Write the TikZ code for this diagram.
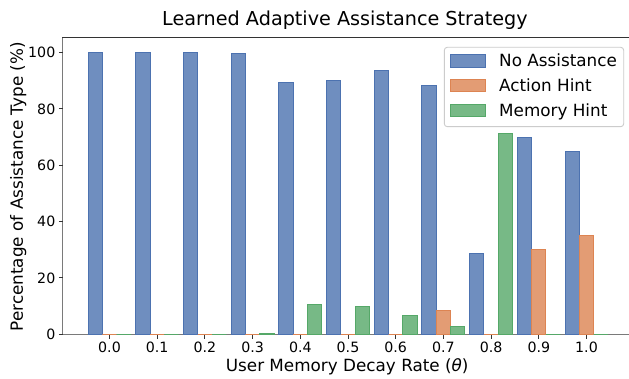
\documentclass[tikz,border=0pt]{standalone}
\usepackage{fontspec}
\setmainfont{DejaVu Sans}
\definecolor{nblue}{HTML}{4C72B0}
\definecolor{norange}{HTML}{DD8452}
\definecolor{ngreen}{HTML}{55A868}
\definecolor{spinedark}{HTML}{333333}
\definecolor{spinegray}{HTML}{7A7A7A}
\begin{document}
\begin{tikzpicture}[x=1pt,y=-1pt,
  bluebar/.style={draw=nblue,fill=nblue,fill opacity=0.8,line width=1pt},
  orangebar/.style={draw=norange,fill=norange,fill opacity=0.8,line width=1pt},
  greenbar/.style={draw=ngreen,fill=ngreen,fill opacity=0.8,line width=1pt},
  ticklab/.style={inner sep=0pt,font=\fontsize{14.2}{17}\selectfont},
  labfont/.style={inner sep=0pt,font=\fontsize{16.8}{20}\selectfont},
  tickmark/.style={draw=spinedark,line width=0.9pt}]
\useasboundingbox (0,0) rectangle (629,379);
\fill[white] (0,0) rectangle (629,379);
% baseline and spines
\draw[spinegray,line width=1.3pt] (62.7,334.3) -- (629,334.3);
\draw[spinegray,line width=1.1pt] (62.7,37.7) -- (62.7,334.3);
\draw[spinedark,line width=1.1pt] (62.2,37.7) -- (629,37.7);
% y ticks
\foreach \v in {0,20,40,60,80,100} {
  \pgfmathsetmacro\yy{334.3-2.818*\v}
  \draw[tickmark] (58.8,\yy) -- (62.7,\yy);
  \node[ticklab,anchor=east] (yt\v) at (55.5,\yy) {\v};
}
% bars
\foreach \i/\lab/\a/\b/\c in {0/0.0/100/0/0, 1/0.1/100/0/0, 2/0.2/100/0/0, 3/0.3/99.7/0/0.35,
  4/0.4/89.5/0/10.4, 5/0.5/89.9/0/10.0, 6/0.6/93.5/0/6.5, 7/0.7/88.4/8.6/2.9,
  8/0.8/28.5/0/71.3, 9/0.9/69.8/30.2/0, 10/1.0/64.9/34.9/0} {
  \pgfmathsetmacro\xc{109.5+47.7*\i}
  \draw[tickmark] (\xc,334.3) -- (\xc,338.6);
  \node[ticklab,anchor=base] (xt\i) at (\xc,352.5) {\lab};
  \draw[bluebar] ({\xc-21.45},334.3) rectangle ({\xc-7.15},{334.3-2.818*\a});
  \draw[orangebar] ({\xc-7.15},334.3) rectangle ({\xc+7.15},{334.3-2.818*\b});
  \draw[greenbar] ({\xc+7.15},334.3) rectangle ({\xc+21.45},{334.3-2.818*\c});
}
% title and axis labels
\node[inner sep=0pt,anchor=base,font=\fontsize{19.2}{23}\selectfont] (title) at (345,26) {Learned Adaptive Assistance Strategy};
\node[labfont,anchor=base] (xlabel) at (347.2,371) {User Memory Decay Rate (\textit{θ})};
\node[labfont,anchor=base,rotate=90] (ylabel) at (23,186.7) {Percentage of Assistance Type (\%)};
% legend
\draw[draw=black!20,fill=white,fill opacity=0.8,line width=0.9pt,rounded corners=3pt] (444.3,47.3) rectangle (623.7,126.7);
\draw[bluebar] (450,55.0) rectangle (485,67.4);
\draw[orangebar] (450,79.5) rectangle (485,91.9);
\draw[greenbar] (450,104.1) rectangle (485,116.5);
\node[labfont,anchor=base west] (leg1) at (499,67.0) {No Assistance};
\node[labfont,anchor=base west] (leg2) at (499,91.5) {Action Hint};
\node[labfont,anchor=base west] (leg3) at (499,116.1) {Memory Hint};
\end{tikzpicture}
\end{document}
